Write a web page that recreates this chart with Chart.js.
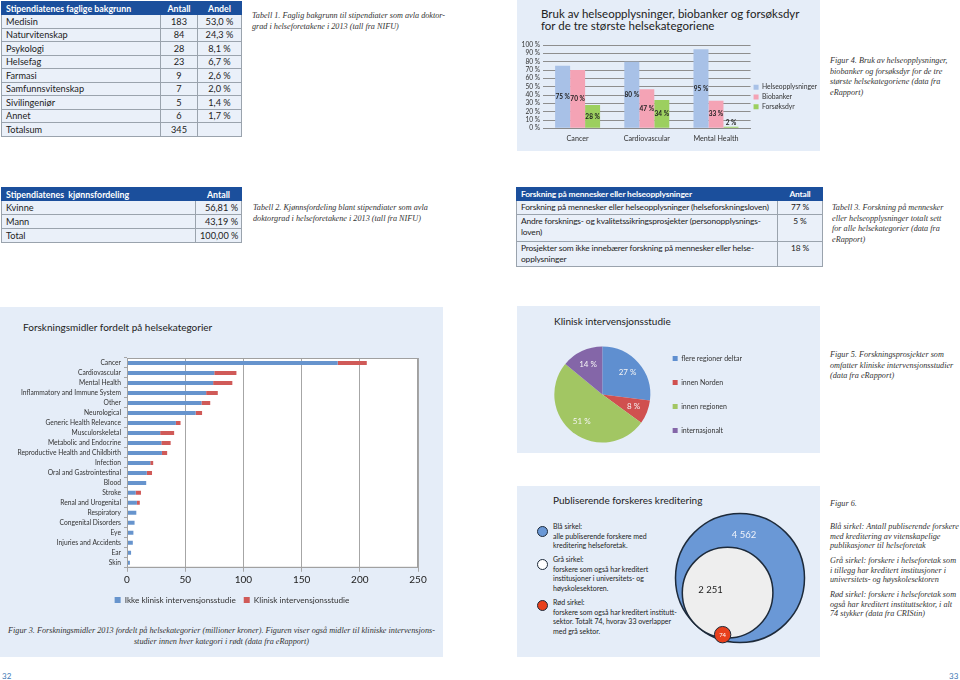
<!DOCTYPE html>
<html><head><meta charset="utf-8">
<script src="https://cdn.jsdelivr.net/npm/chart.js@4.4.1/dist/chart.umd.min.js"></script>
<style>
html,body{margin:0;padding:0;background:#fff;width:960px;height:680px;overflow:hidden;font-family:Lato,'Open Sans',sans-serif;color:#222;}
.panel{position:absolute;background:#e5edf8;}
.txt{position:absolute;white-space:nowrap;}
table.t{position:absolute;border-collapse:collapse;font-size:9.2px;color:#222;table-layout:fixed;}
table.t th{background:#1b4f9c;color:#fff;font-weight:bold;font-size:8.8px;text-align:left;padding:0 4px;border:1px solid #1b4f9c;line-height:11px;white-space:nowrap;}
table.t td{border:1px solid #9aa3ad;padding:0 4px;background:#eaf0f9;line-height:11px;white-space:nowrap;}
table.t .c{text-align:center;}
table.t .r{text-align:right;}
table.t3{font-size:8.4px;letter-spacing:-0.15px;}
table.t3 th{font-size:8.4px;}
.cap{position:absolute;font-family:'Liberation Serif',serif;font-style:italic;font-size:8.2px;line-height:10.5px;color:#333;white-space:nowrap;}
.ttl{position:absolute;font-size:10px;color:#222;white-space:nowrap;}
canvas{position:absolute;}
.lg{position:absolute;font-size:7px;line-height:9.5px;color:#222;white-space:nowrap;}
.dot{position:absolute;width:11px;height:11px;border-radius:50%;border:1.5px solid #1d2a3a;box-sizing:border-box;}
</style></head><body>

<!-- Table 1 -->
<table class="t" id="t1" style="left:1px;top:1px;width:240px"></table>
<div class="cap" style="left:252px;top:11px">Tabell 1. Faglig bakgrunn til stipendiater som avla doktor-<br>grad i helseforetakene i 2013 (tall fra NIFU)</div>

<!-- Figure 4 panel -->
<div class="panel" style="left:517px;top:0;width:303px;height:151px"></div>
<div class="ttl" style="left:541px;top:8px;line-height:12px;font-size:11.5px">Bruk av helseopplysninger, biobanker og forsøksdyr<br>for de tre største helsekategoriene</div>
<canvas id="cA" width="310" height="111" style="left:517px;top:38px"></canvas>
<div class="cap" style="left:830px;top:56px">Figur 4. Bruk av helseopplysninger,<br>biobanker og forsøksdyr for de tre<br>største helsekategoriene (data fra<br>eRapport)</div>

<!-- Table 2 -->
<table class="t" id="t2" style="left:1px;top:187px;width:240px"></table>
<div class="cap" style="left:253px;top:203px">Tabell 2. Kjønnsfordeling blant stipendiater som avla<br>doktorgrad i helseforetakene i 2013 (tall fra NIFU)</div>

<!-- Table 3 -->
<table class="t t3" id="t3" style="left:516px;top:187px;width:306px"></table>
<div class="cap" style="left:832px;top:203px">Tabell 3. Forskning på mennesker<br>eller helseopplysninger totalt sett<br>for alle helsekategorier (data fra<br>eRapport)</div>

<!-- Figure 3 panel -->
<div class="panel" style="left:0;top:307px;width:443px;height:350px"></div>
<div class="ttl" style="left:23px;top:321px">Forskningsmidler fordelt på helsekategorier</div>
<canvas id="cB" width="443" height="275" style="left:0;top:345px"></canvas>
<div class="cap" style="left:0;top:626px;width:443px;text-align:center">Figur 3. Forskningsmidler 2013 fordelt på helsekategorier (millioner kroner). Figuren viser også midler til kliniske intervensjons-<br>studier innen hver kategori i rødt (data fra eRapport)</div>

<!-- Figure 5 panel -->
<div class="panel" style="left:517px;top:306px;width:303px;height:147px"></div>
<div class="ttl" style="left:554px;top:315px">Klinisk intervensjonsstudie</div>
<canvas id="cC" width="303" height="130" style="left:517px;top:330px"></canvas>
<div class="cap" style="left:830px;top:350px">Figur 5. Forskningsprosjekter som<br>omfatter kliniske intervensjonsstudier<br>(data fra eRapport)</div>

<!-- Figure 6 panel -->
<div class="panel" style="left:517px;top:486px;width:303px;height:171px"></div>
<div class="ttl" style="left:553px;top:494px">Publiserende forskeres kreditering</div>
<div class="dot" style="left:537px;top:526px;background:#6a98d6"></div>
<div class="dot" style="left:537px;top:559px;background:#ffffff"></div>
<div class="dot" style="left:537px;top:600px;background:#e8401c"></div>
<div class="lg" style="left:553px;top:522px">Blå sirkel:<br>alle publiserende forskere med<br>kreditering helseforetak.</div>
<div class="lg" style="left:553px;top:555px">Grå sirkel:<br>forskere som også har kreditert<br>institusjoner i universitets- og<br>høyskolesektoren.</div>
<div class="lg" style="left:553px;top:598px">Rød sirkel:<br>forskere som også har kreditert institutt-<br>sektor. Totalt 74, hvorav 33 overlapper<br>med grå sektor.</div>
<canvas id="cD" width="150" height="150" style="left:665px;top:503px"></canvas>
<div class="cap" style="left:830px;top:499px">Figur 6.</div>
<div class="cap" style="left:830px;top:522px;line-height:9.7px">Blå sirkel: Antall publiserende forskere<br>med kreditering av vitenskapelige<br>publikasjoner til helseforetak</div>
<div class="cap" style="left:830px;top:556px;line-height:9.7px">Grå sirkel: forskere i helseforetak som<br>i tillegg har kreditert institusjoner i<br>universitets- og høyskolesektoren</div>
<div class="cap" style="left:830px;top:590px;line-height:9.7px">Rød sirkel: forskere i helseforetak som<br>også har kreditert instituttsektor, i alt<br>74 stykker (data fra CRIStin)</div>

<div class="txt" style="left:2px;top:671px;font-size:8px;color:#3d78b4">32</div>
<div class="txt" style="left:949px;top:671px;font-size:8px;color:#3d78b4">33</div>

<script>
// ---------- Table data ----------
const fieldNames  = ['Medisin','Naturvitenskap','Psykologi','Helsefag','Farmasi','Samfunnsvitenskap','Sivilingeniør','Annet'];
const fieldCounts = [183, 84, 28, 23, 9, 7, 5, 6];
const fieldShares = ['53,0 %','24,3 %','8,1 %','6,7 %','2,6 %','2,0 %','1,4 %','1,7 %'];
const fieldTotal  = 345;

const genderNames  = ['Kvinne','Mann','Total'];
const genderShares = ['56,81 %','43,19 %','100,00 %'];

const researchTypes  = ['Forskning på mennesker eller helseopplysninger (helseforskningsloven)',
                        'Andre forsknings- og kvalitetssikringsprosjekter (personopplysnings-<br>loven)',
                        'Prosjekter som ikke innebærer forskning på mennesker eller helse-<br>opplysninger'];
const researchShares = ['77 %','5 %','18 %'];

// ---------- Figure 4 data ----------
const catsA      = ['Cancer','Cardiovascular','Mental Health'];
const helseoppl  = [75, 80, 95];
const biobanker  = [70, 47, 33];
const forsoksdyr = [28, 34, 2];

// ---------- Figure 3 data ----------
const fundCats = ['Cancer','Cardiovascular','Mental Health','Inflammatory and Immune System','Other','Neurological',
  'Generic Health Relevance','Musculorskeletal','Metabolic and Endocrine','Reproductive Health and Childbirth','Infection',
  'Oral and Gastrointestinal','Blood','Stroke','Renal and Urogenital','Respiratory','Congenital Disorders','Eye',
  'Injuries and Accidents','Ear','Skin'];
const ikkeKlinisk = [181, 75, 74, 68, 64, 59, 42, 28.5, 29.5, 30, 20, 17, 16.5, 7.5, 8.5, 8, 6.5, 5.5, 5, 3.5, 2.5];
const klinisk     = [25, 19, 16.5, 10, 7.5, 5.5, 4, 12, 8, 4.5, 2.5, 4.5, 0, 4.5, 2.5, 0, 0, 0, 0, 0, 0];
const fundTicks   = [0, 50, 100, 150, 200, 250];

// ---------- Figure 5 data ----------
const pieLabels = ['flere regioner deltar','innen Norden','innen regionen','internasjonalt'];
const pieValues = [27, 8, 51, 14];

// ---------- Figure 6 data ----------
const circleNames  = ['Blå sirkel','Grå sirkel','Rød sirkel'];
const circleCounts = [4562, 2251, 74];

// ---------- build tables ----------
(function(){
  let h = '<colgroup><col style="width:159px"><col style="width:37px"><col style="width:44px"></colgroup>';
  h += '<tr style="height:13px"><th>Stipendiatenes faglige bakgrunn</th><th class="c">Antall</th><th class="c">Andel</th></tr>';
  fieldNames.forEach((n,i)=>{ h += '<tr style="height:13.5px"><td>'+n+'</td><td class="c">'+fieldCounts[i]+'</td><td class="c">'+fieldShares[i]+'</td></tr>'; });
  h += '<tr style="height:13.5px"><td>Totalsum</td><td class="c">'+fieldTotal+'</td><td></td></tr>';
  document.getElementById('t1').innerHTML = h;

  let g = '<colgroup><col style="width:194px"><col style="width:46px"></colgroup>';
  g += '<tr style="height:13px"><th>Stipendiatenes&nbsp; kjønnsfordeling</th><th class="c">Antall</th></tr>';
  genderNames.forEach((n,i)=>{ g += '<tr style="height:14px"><td>'+n+'</td><td class="r" style="padding-right:3px">'+genderShares[i]+'</td></tr>'; });
  document.getElementById('t2').innerHTML = g;

  let r = '<colgroup><col style="width:261px"><col style="width:45px"></colgroup>';
  r += '<tr style="height:13px"><th>Forskning på mennesker eller helseopplysninger</th><th class="c">Antall</th></tr>';
  const hh = [14, 27, 25];
  researchTypes.forEach((n,i)=>{ r += '<tr style="height:'+hh[i]+'px"><td style="vertical-align:top;padding-top:1px">'+n+'</td><td class="c" style="vertical-align:top;padding-top:1px">'+researchShares[i]+'</td></tr>'; });
  document.getElementById('t3').innerHTML = r;
})();

const FONT = 'Lato';
Chart.defaults.font.family = FONT;
Chart.defaults.color = '#222';
Chart.defaults.animation = false;

// ---------- Figure 4 chart ----------
const barValueLabels = {
  id:'barValueLabels',
  afterDatasetsDraw(chart){
    const ctx = chart.ctx; ctx.save();
    ctx.font = 'bold 6.5px '+FONT; ctx.fillStyle = '#222'; ctx.textAlign='center'; ctx.textBaseline='middle';
    chart.data.datasets.forEach((ds,di)=>{
      chart.getDatasetMeta(di).data.forEach((bar,i)=>{
        const v = ds.data[i];
        let y = (bar.y + bar.base)/2;
        if (bar.base - bar.y < 8) y = bar.y - 4;
        ctx.fillText(v+' %', bar.x, y);
      });
    });
    ctx.restore();
  }
};
new Chart(document.getElementById('cA'), {
  type:'bar',
  data:{labels:catsA, datasets:[
    {label:'Helseopplysninger', data:helseoppl, backgroundColor:'#a8c1e7'},
    {label:'Biobanker', data:biobanker, backgroundColor:'#f4a3b5'},
    {label:'Forsøksdyr', data:forsoksdyr, backgroundColor:'#9ccf5f'}]},
  options:{responsive:false, maintainAspectRatio:false,
    layout:{padding:{left:0,right:0,top:7,bottom:0}},
    datasets:{bar:{categoryPercentage:0.65, barPercentage:1}},
    plugins:{tooltip:{enabled:false},
      legend:{position:'right', labels:{boxWidth:5, boxHeight:5, font:{size:6.8}, color:'#333', padding:3}}},
    scales:{
      x:{grid:{display:false, drawTicks:false}, border:{color:'#8a8a8a'}, ticks:{font:{size:7.2}, color:'#333', padding:6}},
      y:{min:0, max:100, ticks:{stepSize:10, autoSkip:false, callback:v=>v+' %', font:{size:6.6}, color:'#333', padding:3},
         grid:{color:'#8e8e8e', drawTicks:false}, border:{display:false},
         afterFit(s){ s.width = 26; }}
    }
  },
  plugins:[barValueLabels]
});

// ---------- Figure 3 chart ----------
const whitePlot = {
  id:'whitePlot',
  beforeDraw(chart){
    const a = chart.chartArea, ctx = chart.ctx; ctx.save();
    ctx.fillStyle = '#ffffff'; ctx.fillRect(a.left, a.top, a.right-a.left, a.bottom-a.top);
    ctx.restore();
  },
  afterDraw(chart){
    const a = chart.chartArea, ctx = chart.ctx; ctx.save();
    ctx.strokeStyle = '#a0a0a0'; ctx.lineWidth = 1;
    ctx.strokeRect(a.left+0.5, a.top+0.5, a.right-a.left-1, a.bottom-a.top-1);
    ctx.restore();
  }
};
// the legend of Figure 3 sits a little right of the canvas centre, as in the original
const legendShift = {
  id:'legendShift',
  afterLayout(chart){
    const lg = chart.legend;
    if (lg) { lg.left += 23; lg.right += 23; }
  }
};
new Chart(document.getElementById('cB'), {
  type:'bar',
  data:{labels:fundCats, datasets:[
    {label:'Ikke klinisk intervensjonsstudie', data:ikkeKlinisk, backgroundColor:'#6794cd'},
    {label:'Klinisk intervensjonsstudie', data:klinisk, backgroundColor:'#d05a58'}]},
  options:{indexAxis:'y', responsive:false, maintainAspectRatio:false,
    layout:{padding:{left:0,right:25,top:13,bottom:6}},
    datasets:{bar:{categoryPercentage:0.8, barPercentage:0.5}},
    plugins:{tooltip:{enabled:false},
      legend:{position:'bottom', labels:{boxWidth:6, boxHeight:6, font:{size:8.2}, color:'#333', padding:8}}},
    scales:{
      x:{stacked:true, min:0, max:250, afterBuildTicks(s){ s.ticks = fundTicks.map(v=>({value:v})); },
         ticks:{font:{size:10}, color:'#222', padding:2}, grid:{color:'#a6a6a6', tickLength:4}, border:{color:'#a6a6a6'}},
      y:{stacked:true, ticks:{font:{size:6.7}, color:'#333', padding:3, autoSkip:false},
         grid:{drawOnChartArea:false, tickLength:3, color:'#a6a6a6'}, border:{color:'#a6a6a6'},
         afterFit(s){ s.width = 127; }}
    }
  },
  plugins:[whitePlot, legendShift]
});

// ---------- Figure 5 chart ----------
const pieLabelPlugin = {
  id:'pieLabelPlugin',
  afterDatasetsDraw(chart){
    const ctx = chart.ctx; ctx.save();
    ctx.font = '8px '+FONT; ctx.fillStyle = '#f4f4f4'; ctx.textAlign='center'; ctx.textBaseline='middle';
    chart.getDatasetMeta(0).data.forEach((arc,i)=>{
      const mid = (arc.startAngle + arc.endAngle)/2, rr = arc.outerRadius*0.7;
      ctx.fillText(chart.data.datasets[0].data[i]+' %', arc.x + Math.cos(mid)*rr, arc.y + Math.sin(mid)*rr);
    });
    ctx.restore();
  }
};
new Chart(document.getElementById('cC'), {
  type:'pie',
  data:{labels:pieLabels, datasets:[{data:pieValues, backgroundColor:['#5f8fd0','#d0504f','#a2c663','#8466a8'], borderWidth:0}]},
  options:{responsive:false, maintainAspectRatio:false, radius:48,
    layout:{padding:{left:32,right:68,top:0,bottom:1}},
    plugins:{tooltip:{enabled:false},
      legend:{position:'right', labels:{boxWidth:5, boxHeight:5, font:{size:7}, color:'#333', padding:17}}}
  },
  plugins:[pieLabelPlugin]
});

// ---------- Figure 6 chart ----------
const pxPerSqrt = 0.955;               // circle radius in px per sqrt(count)
const radii = circleCounts.map(c => pxPerSqrt*Math.sqrt(c));
const grayDir = Math.atan2(0.764, -0.646); // gray circle touches the blue one down-left
const redDir  = Math.atan2(0.993, -0.118); // red circle sits on the lower edge of the gray one
const grayPos = {x:(radii[0]-radii[1])*Math.cos(grayDir), y:(radii[0]-radii[1])*Math.sin(grayDir)};
const redPos  = {x:grayPos.x + (radii[1]-3)*Math.cos(redDir), y:grayPos.y + (radii[1]-3)*Math.sin(redDir)};
const circleLabels = {
  id:'circleLabels',
  afterDatasetsDraw(chart){
    const ctx = chart.ctx; ctx.save();
    const b = chart.getDatasetMeta(0).data[0], g = chart.getDatasetMeta(1).data[0], r = chart.getDatasetMeta(2).data[0];
    ctx.textAlign='center'; ctx.textBaseline='middle';
    ctx.font = '9.5px '+FONT; ctx.fillStyle = '#eef2fa';
    const ringMid = ((b.y - radii[0]) + (g.y - radii[1]))/2;
    ctx.fillText('4 562', b.x + 4, ringMid + 5);
    ctx.fillStyle = '#222';
    ctx.fillText('2 251', g.x - 17, g.y - 3);
    ctx.font = '6px '+FONT; ctx.fillStyle = '#fff';
    ctx.fillText(String(circleCounts[2]), r.x, r.y);
    ctx.restore();
  }
};
new Chart(document.getElementById('cD'), {
  type:'bubble',
  data:{datasets:[
    {label:circleNames[0], order:3, data:[{x:0,y:0,r:radii[0]}], backgroundColor:'#6a98d6', borderColor:'#1d2a3a', borderWidth:1.5, clip:false},
    {label:circleNames[1], order:2, data:[{x:grayPos.x,y:grayPos.y,r:radii[1]}], backgroundColor:'#eeeeee', borderColor:'#1d2a3a', borderWidth:1.5, clip:false},
    {label:circleNames[2], order:1, data:[{x:redPos.x,y:redPos.y,r:radii[2]}], backgroundColor:'#e8401c', borderColor:'#1d2a3a', borderWidth:1, clip:false}]},
  options:{responsive:false, maintainAspectRatio:false, layout:{autoPadding:false, padding:0},
    plugins:{legend:{display:false}, tooltip:{enabled:false}},
    scales:{x:{type:'linear', display:false, min:-75, max:75}, y:{type:'linear', display:false, min:-75, max:75, reverse:true}}
  },
  plugins:[circleLabels]
});
</script>
</body></html>
